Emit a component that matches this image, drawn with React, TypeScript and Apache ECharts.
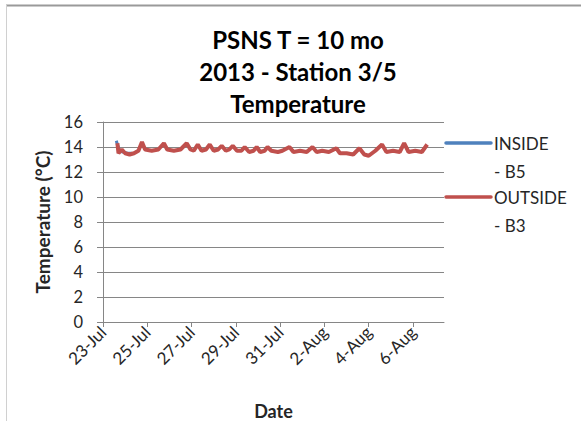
import React, { useEffect, useRef } from "react";
import * as echarts from "echarts";

const titleLines = ["PSNS T = 10 mo", "2013 - Station 3/5", "Temperature"];
const xTickLabels = ["23-Jul", "25-Jul", "27-Jul", "29-Jul", "31-Jul", "2-Aug", "4-Aug", "6-Aug"];
const seriesNames = ["INSIDE - B5", "OUTSIDE - B3"];
const legendLines = [["INSIDE", "- B5"], ["OUTSIDE", "- B3"]];

// days after 23-Jul
const outsideDays = [
  0.65, 0.7, 0.85, 1.0, 1.2, 1.4, 1.6, 1.76, 1.9, 2.2, 2.5, 2.75, 2.9, 3.2, 3.5, 3.78, 3.95, 4.1, 4.28, 4.45,
  4.65, 4.82, 5.0, 5.2, 5.36, 5.55, 5.7, 5.86, 6.05, 6.25, 6.4, 6.6, 6.8, 6.94, 7.1, 7.3, 7.43, 7.6, 7.9, 8.1,
  8.42, 8.6, 8.9, 9.2, 9.46, 9.65, 9.9, 10.2, 10.54, 10.7, 11.0, 11.3, 11.58, 11.8, 12.0, 12.3, 12.6, 12.8,
  13.1, 13.4, 13.6, 13.8, 14.1, 14.4, 14.64,
];
const outsideTemps = [
  14.3, 13.5, 13.8, 13.5, 13.4, 13.5, 13.7, 14.4, 13.8, 13.7, 13.8, 14.3, 13.8, 13.7, 13.8, 14.3, 13.8, 13.7, 14.2, 13.7,
  13.8, 14.2, 13.7, 13.8, 14.1, 13.7, 13.8, 14.1, 13.7, 13.7, 14.0, 13.6, 13.7, 14.0, 13.6, 13.7, 14.0, 13.7, 13.6, 13.7,
  14.0, 13.6, 13.7, 13.6, 14.0, 13.6, 13.7, 13.6, 13.9, 13.5, 13.5, 13.4, 13.9, 13.4, 13.3, 13.7, 14.2, 13.6,
  13.7, 13.6, 14.3, 13.6, 13.7, 13.6, 14.2,
];
const insideDays = [0.6, 0.65, 0.75, 0.9, 1.1, 1.3];
const insideTemps = [14.5, 14.2, 13.7, 13.6, 13.5, 13.5];

const COLORS = ["#4F81BD", "#C0504D"];
const FONT = "Lato";
const TXT = "#262626";

export default function App() {
  const ref = useRef<HTMLDivElement>(null);
  useEffect(() => {
    if (!ref.current) return;
    const chart = echarts.init(ref.current, null, { renderer: "svg" });
    const toPairs = (d: number[], t: number[]) => d.map((x, i) => [x, t[i]]);
    const legendGraphics: any[] = [];
    legendLines.forEach((ln, i) => {
      const y = 143 + i * 54;
      legendGraphics.push({
        type: "line",
        shape: { x1: 446, y1: y, x2: 491, y2: y },
        style: { stroke: COLORS[i], lineWidth: 3.5, lineCap: "round" },
      });
      legendGraphics.push({
        type: "text",
        x: 494,
        y: y,
        style: { text: ln[0], font: `17px ${FONT}`, fill: TXT, textVerticalAlign: "middle" },
      });
      legendGraphics.push({
        type: "text",
        x: 494,
        y: y + 28,
        style: { text: ln[1], font: `17px ${FONT}`, fill: TXT, textVerticalAlign: "middle" },
      });
    });
    chart.setOption({
      animation: false,
      backgroundColor: "#ffffff",
      title: {
        text: titleLines.join("\n"),
        left: 293,
        top: 18,
        textAlign: "center",
        textStyle: { fontFamily: FONT, fontWeight: "bold", fontSize: 24, lineHeight: 32, color: "#000" },
      },
      grid: { left: 103, top: 122, width: 341, height: 200, containLabel: false },
      xAxis: {
        type: "value",
        min: 0,
        max: 15.4,
        interval: 2,
        name: "Date",
        nameLocation: "middle",
        nameGap: 80,
        nameTextStyle: { fontFamily: FONT, fontWeight: "bold", fontSize: 18, color: TXT },
        axisLine: { show: true, lineStyle: { color: "#868686", width: 1 } },
        axisTick: { show: true, length: 5, lineStyle: { color: "#868686" } },
        splitLine: { show: false },
        axisLabel: {
          rotate: 45,
          margin: 7,
          showMaxLabel: false,
          fontFamily: FONT,
          fontSize: 17,
          color: TXT,
          formatter: (v: number) => {
            const idx = Math.round(v / 2);
            return Math.abs(v - idx * 2) < 1e-6 ? xTickLabels[idx] ?? "" : "";
          },
        },
      },
      yAxis: {
        type: "value",
        min: 0,
        max: 16,
        interval: 2,
        name: "Temperature (°C)",
        nameLocation: "middle",
        nameGap: 51,
        nameTextStyle: { fontFamily: FONT, fontWeight: "bold", fontSize: 19, color: TXT },
        axisLine: { show: true, lineStyle: { color: "#868686", width: 1 } },
        axisTick: { show: true, length: 6, lineStyle: { color: "#868686" } },
        splitLine: { show: true, lineStyle: { color: "#868686", width: 1 } },
        axisLabel: { margin: 20, fontFamily: FONT, fontSize: 16.5, color: TXT },
      },
      series: [
        {
          name: seriesNames[0],
          type: "line",
          data: toPairs(insideDays, insideTemps),
          showSymbol: false,
          lineStyle: { color: COLORS[0], width: 3 },
          itemStyle: { color: COLORS[0] },
        },
        {
          name: seriesNames[1],
          type: "line",
          data: toPairs(outsideDays, outsideTemps),
          showSymbol: false,
          lineStyle: { color: COLORS[1], width: 4 },
          itemStyle: { color: COLORS[1] },
        },
      ],
      graphic: [
        { type: "line", shape: { x1: 6, y1: 5.5, x2: 581, y2: 5.5 }, style: { stroke: "#9a9a9a", lineWidth: 2 } },
        { type: "line", shape: { x1: 6.5, y1: 5, x2: 6.5, y2: 421 }, style: { stroke: "#d0d0d0", lineWidth: 1 } },
        ...legendGraphics,
      ],
    });
    return () => chart.dispose();
  }, []);
  return <div ref={ref} style={{ position: "absolute", left: 0, top: 0, width: 581, height: 421 }} />;
}
